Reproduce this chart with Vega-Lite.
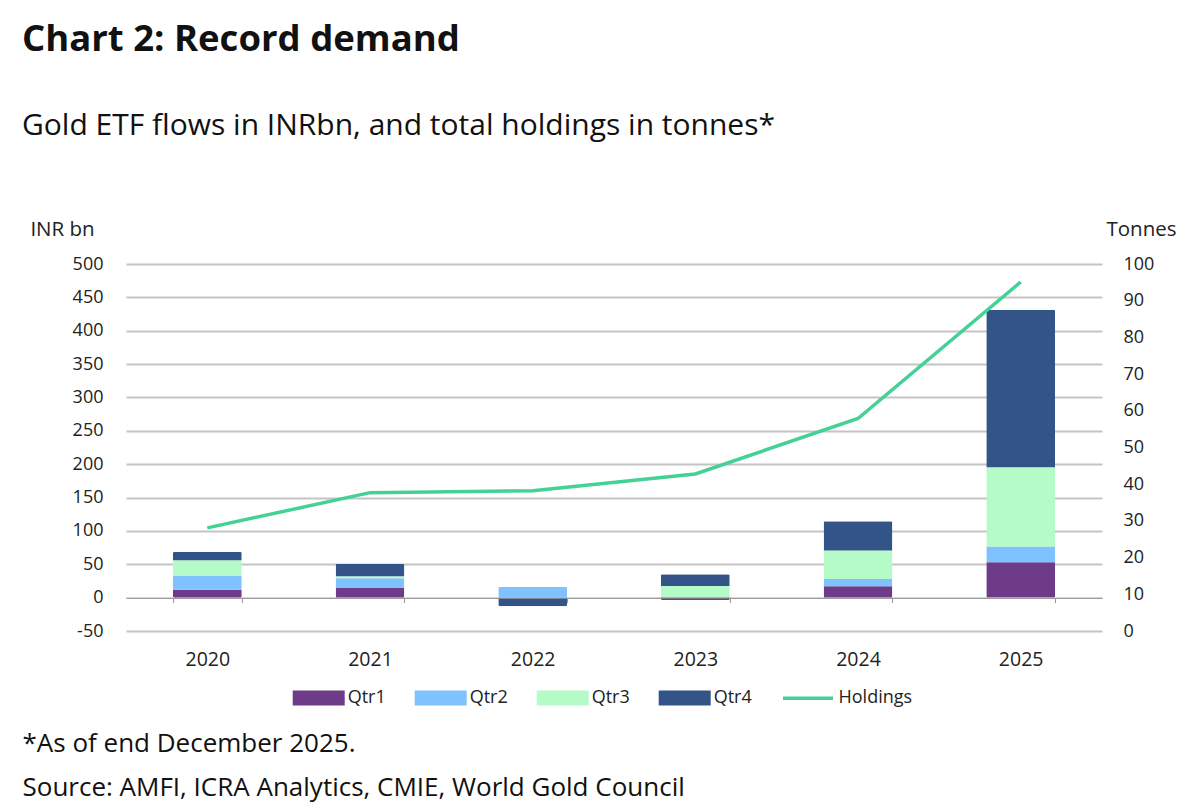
{
  "$schema": "https://vega.github.io/schema/vega-lite/v6.json",
  "width": 976,
  "height": 367,
  "autosize": {"type": "none"},
  "padding": {"left": 126, "top": 264, "right": 98, "bottom": 179},
  "background": "white",
  "config": {"font": "Open Sans", "view": {"stroke": null}},
  "title": {
    "text": "Chart 2: Record demand",
    "subtitle": "Gold ETF flows in INRbn, and total holdings in tonnes*",
    "anchor": "start",
    "frame": "group",
    "dx": -104,
    "offset": 78,
    "fontSize": 36.5,
    "fontWeight": "bold",
    "color": "#111111",
    "subtitleFontSize": 30,
    "subtitleColor": "#111111",
    "subtitlePadding": 53
  },
  "datasets": {
    "flows": [
      {"year": "2020", "series": "Qtr1", "inr_bn": 12},
      {"year": "2020", "series": "Qtr2", "inr_bn": 20.5},
      {"year": "2020", "series": "Qtr3", "inr_bn": 23.5},
      {"year": "2020", "series": "Qtr4", "inr_bn": 12.5},
      {"year": "2021", "series": "Qtr1", "inr_bn": 14.5},
      {"year": "2021", "series": "Qtr2", "inr_bn": 14.5},
      {"year": "2021", "series": "Qtr3", "inr_bn": 3},
      {"year": "2021", "series": "Qtr4", "inr_bn": 18.5},
      {"year": "2022", "series": "Qtr1", "inr_bn": 0},
      {"year": "2022", "series": "Qtr2", "inr_bn": 16.5},
      {"year": "2022", "series": "Qtr3", "inr_bn": -1},
      {"year": "2022", "series": "Qtr4", "inr_bn": -12},
      {"year": "2023", "series": "Qtr1", "inr_bn": -3.5},
      {"year": "2023", "series": "Qtr2", "inr_bn": 1},
      {"year": "2023", "series": "Qtr3", "inr_bn": 16.5},
      {"year": "2023", "series": "Qtr4", "inr_bn": 17.5},
      {"year": "2024", "series": "Qtr1", "inr_bn": 17},
      {"year": "2024", "series": "Qtr2", "inr_bn": 11},
      {"year": "2024", "series": "Qtr3", "inr_bn": 42.5},
      {"year": "2024", "series": "Qtr4", "inr_bn": 44},
      {"year": "2025", "series": "Qtr1", "inr_bn": 53},
      {"year": "2025", "series": "Qtr2", "inr_bn": 23.5},
      {"year": "2025", "series": "Qtr3", "inr_bn": 119},
      {"year": "2025", "series": "Qtr4", "inr_bn": 236}
    ],
    "holdings": [
      {"year": "2020", "series": "Holdings", "tonnes": 28.1},
      {"year": "2021", "series": "Holdings", "tonnes": 37.7},
      {"year": "2022", "series": "Holdings", "tonnes": 38.2},
      {"year": "2023", "series": "Holdings", "tonnes": 42.8},
      {"year": "2024", "series": "Holdings", "tonnes": 57.9},
      {"year": "2025", "series": "Holdings", "tonnes": 95.1}
    ]
  },
  "layer": [
    {
      "data": {"name": "flows"},
      "mark": {"type": "bar", "cornerRadius": 1.5},
      "encoding": {
        "x": {
          "field": "year",
          "type": "nominal",
          "scale": {"paddingInner": 0.577, "paddingOuter": 0.2885},
          "axis": {
            "offset": -33.4,
            "zindex": 1,
            "labelAngle": 0,
            "labelFontSize": 19.5,
            "labelColor": "#222222",
            "labelPadding": 48,
            "tickBand": "extent",
            "tickSize": 5,
            "tickColor": "#9a9a9a",
            "domainColor": "#9a9a9a",
            "domainWidth": 1,
            "grid": false,
            "title": ["*As of end December 2025.", "Source: AMFI, ICRA Analytics, CMIE, World Gold Council"],
            "titleX": -104,
            "titleY": 154,
            "titleAlign": "left",
            "titleBaseline": "alphabetic",
            "titleAnchor": "start",
            "titleFontSize": 26,
            "titleFontWeight": "normal",
            "titleColor": "#111111",
            "titleLineHeight": 44
          }
        },
        "y": {
          "field": "inr_bn",
          "type": "quantitative",
          "stack": "zero",
          "scale": {"domain": [-50, 500], "nice": false, "zero": false},
          "axis": {
            "values": [-50, 0, 50, 100, 150, 200, 250, 300, 350, 400, 450, 500],
            "labelExpr": "replace(datum.label, '\u2212', '-')",
            "title": "INR bn",
            "titleAngle": 0,
            "titleX": -64,
            "titleY": -35,
            "titleAlign": "center",
            "titleBaseline": "middle",
            "titleFontSize": 20.5,
            "titleFontWeight": "normal",
            "titleColor": "#222222",
            "labelFontSize": 18,
            "labelColor": "#222222",
            "labelPadding": 23,
            "ticks": false,
            "domain": false,
            "grid": true,
            "gridColor": {"condition": {"test": "datum.value === 0", "value": "#a0a0a0"}, "value": "#c4c4c4"},
            "gridWidth": {"condition": {"test": "datum.value === 0", "value": 1}, "value": 2}
          }
        },
        "order": {"field": "series", "type": "nominal", "sort": "ascending"},
        "color": {
          "field": "series",
          "type": "nominal",
          "scale": {
            "domain": ["Qtr1", "Qtr2", "Qtr3", "Qtr4"],
            "range": ["#6d3b87", "#80c1ff", "#b5fbc8", "#325488"]
          },
          "legend": {
            "orient": "none",
            "legendX": 166.7,
            "legendY": 408,
            "direction": "horizontal",
            "columns": 4,
            "gridAlign": "all",
            "title": null,
            "labelFontSize": 18,
            "labelColor": "#222222",
            "labelOffset": 3,
            "columnPadding": 28,
            "symbolSize": 2704,
            "symbolStrokeWidth": 0,
            "encode": {
              "symbols": {
                "update": {
                  "size": {"value": 2704},
                  "shape": {"value": "M-1,-0.29H1V0.29H-1Z"},
                  "strokeWidth": {"value": 0},
                  "opacity": {"value": 1}
                }
              }
            }
          }
        }
      }
    },
    {
      "data": {"name": "holdings"},
      "mark": {"type": "line", "strokeWidth": 3.5},
      "encoding": {
        "x": {"field": "year", "type": "nominal"},
        "y": {
          "field": "tonnes",
          "type": "quantitative",
          "scale": {"domain": [0, 100], "nice": false},
          "axis": {
            "orient": "right",
            "values": [0, 10, 20, 30, 40, 50, 60, 70, 80, 90, 100],
            "title": "Tonnes",
            "titleAngle": 0,
            "titleX": 39,
            "titleY": -35,
            "titleAlign": "center",
            "titleBaseline": "middle",
            "titleFontSize": 20.5,
            "titleFontWeight": "normal",
            "titleColor": "#222222",
            "labelFontSize": 18,
            "labelColor": "#222222",
            "labelPadding": 21,
            "ticks": false,
            "domain": false,
            "grid": false
          }
        },
        "stroke": {
          "field": "series",
          "type": "nominal",
          "scale": {"domain": ["Holdings"], "range": ["#43d195"]},
          "legend": {
            "orient": "none",
            "legendX": 655,
            "legendY": 407.25,
            "title": null,
            "labelFontSize": 18,
            "labelColor": "#222222",
            "labelOffset": 3.5,
            "symbolType": "stroke",
            "symbolSize": 2500,
            "symbolStrokeWidth": 3.5
          }
        }
      }
    }
  ],
  "resolve": {"scale": {"y": "independent"}}
}
